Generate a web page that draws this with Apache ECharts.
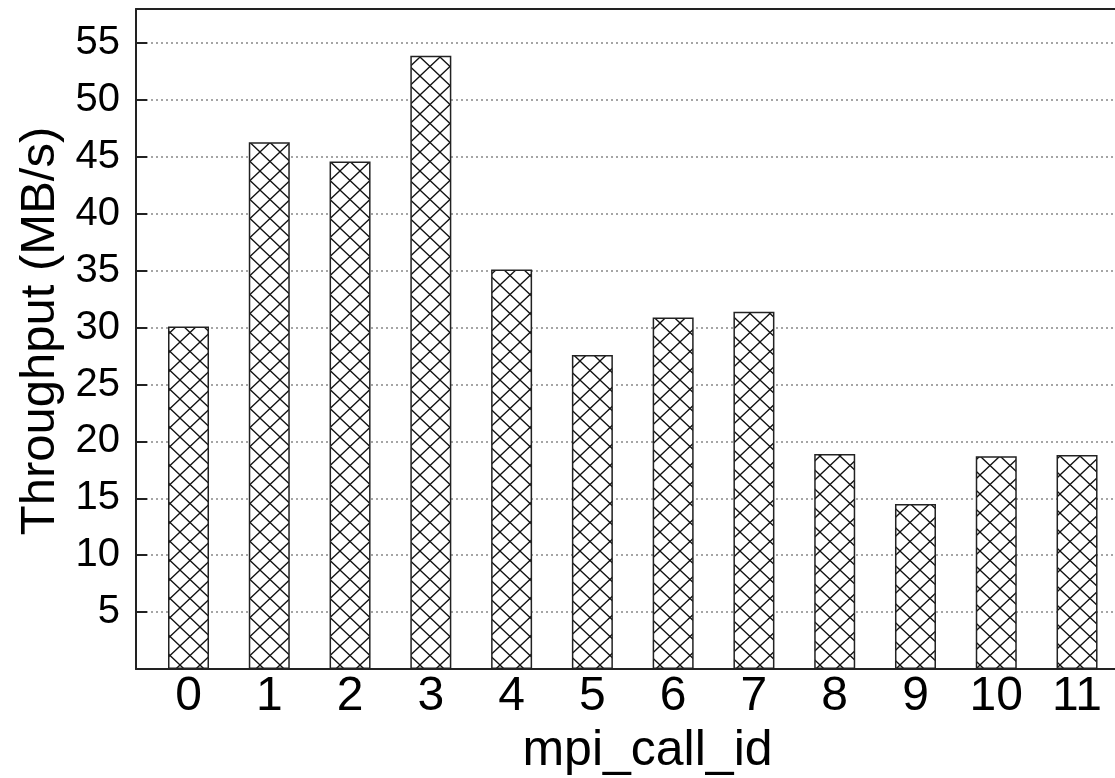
<!DOCTYPE html>
<html><head><meta charset="utf-8">
<script src="https://cdn.jsdelivr.net/npm/echarts@6/dist/echarts.min.js"></script>
<style>html,body{margin:0;padding:0;background:#fff}#c{width:1115px;height:778px}</style>
</head><body><div id="c"></div>
<script>
const categories = ['0','1','2','3','4','5','6','7','8','9','10','11'];
const throughput = [30.1, 46.3, 44.6, 53.9, 35.1, 27.6, 30.9, 31.4, 18.9, 14.5, 18.7, 18.8];
const yTickLabels = [5, 10, 15, 20, 25, 30, 35, 40, 45, 50, 55];
const xTickValues = categories.map((c, i) => i);

// cross-hatch pattern
const tile = document.createElement('canvas');
tile.width = 20; tile.height = 19;
const ctx = tile.getContext('2d');
ctx.fillStyle = '#fff'; ctx.fillRect(0, 0, 20, 19);
ctx.strokeStyle = '#111'; ctx.lineWidth = 1.3;
ctx.beginPath();
ctx.moveTo(0, 0); ctx.lineTo(20, 19);
ctx.moveTo(20, 0); ctx.lineTo(0, 19);
ctx.stroke();

const font = '"Liberation Sans", Arial, sans-serif';
const X_MIN = -0.65, X_MAX = 11.47;
const chart = echarts.init(document.getElementById('c'), null, {renderer: 'canvas'});
chart.setOption({
  animation: false,
  backgroundColor: '#fff',
  grid: {left: 136, top: 9, bottom: 109, right: 0, show: false, outerBoundsMode: 'none', containLabel: false},
  xAxis: [{
    type: 'value', min: X_MIN, max: X_MAX,
    name: 'mpi_call_id', nameLocation: 'middle', nameGap: 56,
    nameTextStyle: {fontFamily: font, fontSize: 50, color: '#000', padding: [0, 0, 0, 44]},
    axisLine: {show: true, onZero: false, lineStyle: {color: '#222', width: 2}},
    axisTick: {show: false},
    splitLine: {show: false},
    axisLabel: {customValues: xTickValues, formatter: v => categories[Math.round(v)] ?? '', fontFamily: font, fontSize: 48, color: '#000', margin: 4}
  }, {
    type: 'value', min: X_MIN, max: X_MAX, position: 'top',
    axisLine: {show: true, onZero: false, lineStyle: {color: '#222', width: 2}},
    axisTick: {show: false}, axisLabel: {show: false}, splitLine: {show: false}
  }],
  yAxis: {
    type: 'value', min: 0, max: 58, interval: 5,
    name: 'Throughput (MB/s)', nameLocation: 'middle', nameGap: 70,
    nameTextStyle: {fontFamily: font, fontSize: 49, color: '#000', padding: [0, 0, 0, 16]},
    axisLine: {show: true, onZero: false, lineStyle: {color: '#222', width: 2}},
    axisTick: {show: true, inside: true, length: 11, lineStyle: {color: '#222', width: 2}},
    splitLine: {show: true, lineStyle: {type: [2, 3], color: '#888', width: 1.5}},
    axisLabel: {formatter: v => yTickLabels.includes(v) ? String(v) : '', fontFamily: font, fontSize: 40, color: '#000', margin: 16}
  },
  series: [{
    type: 'bar',
    xAxisIndex: 0,
    barWidth: 41,
    data: throughput.map((v, i) => [i, v]),
    itemStyle: {color: {image: tile, repeat: 'repeat'}, borderColor: '#222', borderWidth: 1.5}
  }]
});
</script></body></html>
